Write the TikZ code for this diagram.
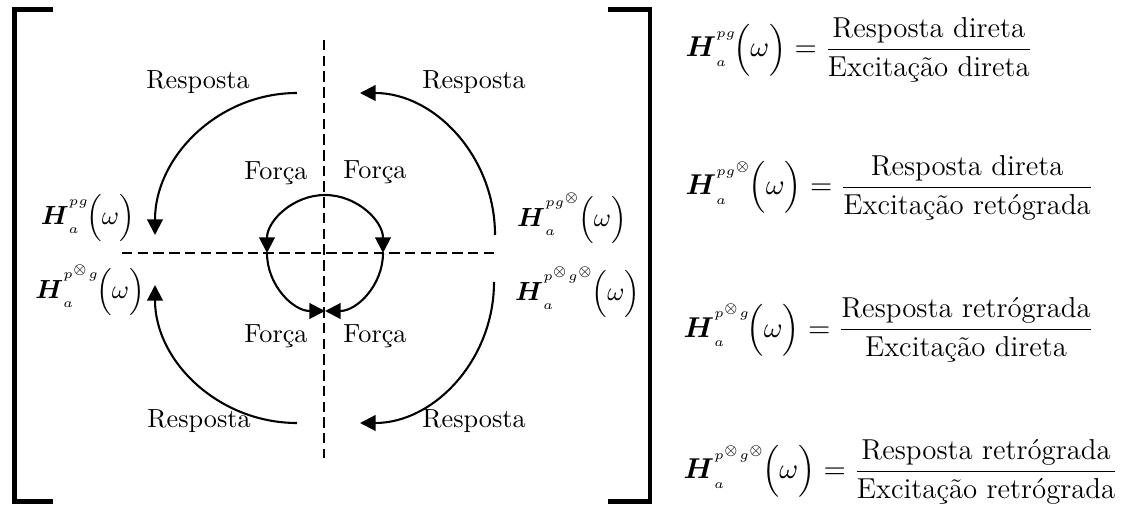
\documentclass[tikz,border=0pt]{standalone}
\usepackage{amsmath,amssymb}
\usepackage{fontspec}
\usepackage{tikz}
\usetikzlibrary{arrows.meta,calc}
\newcommand{\Hfun}[1]{\boldsymbol{H}_{_{a}}^{^{#1}}\!\Big(\omega\Big)}

\begin{document}
\begin{tikzpicture}[
  x=0.3817pt,y=0.3817pt,
  font=\normalsize,
  lbl/.style={inner sep=1pt},
  eqn/.style={anchor=west,inner sep=0pt,font=\fontsize{11}{13.5}\selectfont},
  arr/.style={-{Triangle[length=6pt,width=6pt]},line width=0.8pt},
  axisline/.style={dash pattern=on 4pt off 2pt,line width=0.7pt},
  brk/.style={line width=1.9pt}
]
\useasboundingbox (0,0) rectangle (1125,510);
% brackets
\draw[brk] (53,500.5) -- (14.5,500.5) -- (14.5,8.5) -- (53,8.5);
\draw[brk] (608,500.5) -- (650,500.5) -- (650,8.5) -- (608,8.5);
% axes
\coordinate (hl) at (122,257); \coordinate (hr) at (495,257);
\coordinate (vt) at (324,470); \coordinate (vb) at (324,52);
\draw[axisline] (hl) -- (hr);
\draw[axisline] (vt) -- (vb);
% inner circle (forces)
\coordinate (ft) at (325,315); \coordinate (fl) at (267,257); \coordinate (fr) at (383,257);
\draw[arr] (ft) arc[start angle=90,end angle=180,radius=58];
\draw[arr] (ft) arc[start angle=90,end angle=0,radius=58];
\draw[arr] (fl) arc[start angle=180,end angle=270,radius=58];
\draw[arr] (fr) arc[start angle=0,end angle=-90,radius=58];
% outer arcs (responses)
\coordinate (rtl) at (297,417); \coordinate (rtr) at (495,275);
\coordinate (rbl) at (297,87);  \coordinate (rbr) at (494,228);
\draw[arr] (rtl) arc[start angle=90,end angle=180,radius=142];
\draw[arr] (rtr) arc[start angle=0,end angle=90,x radius=135,y radius=142];
\draw[arr] (rbl) arc[start angle=270,end angle=180,x radius=142,y radius=138];
\draw[arr] (rbr) arc[start angle=0,end angle=-90,x radius=134,y radius=141];
% labels
\node[lbl] (resptl) at (198,428) {Resposta};
\node[lbl] (resptr) at (474,428) {Resposta};
\node[lbl] (respbl) at (199,89) {Resposta};
\node[lbl] (respbr) at (474,89) {Resposta};
\node[lbl] (forctl) at (276,337) {Força};
\node[lbl] (forctr) at (375,338) {Força};
\node[lbl] (forcbl) at (276,174) {Força};
\node[lbl] (forcbr) at (375,174) {Força};
\node[lbl,anchor=east] (hpg) at (138,292) {$\Hfun{pg}$};
\node[lbl,anchor=east] (hpxg) at (148,220) {$\Hfun{p^{\otimes}g}$};
\node[lbl,anchor=west] (hpgx) at (514,292) {$\Hfun{pg^{\otimes}}$};
\node[lbl,anchor=west] (hpxgx) at (512,218) {$\Hfun{p^{\otimes}g^{\otimes}}$};
% definitions
\node[eqn] (eq1) at (685,460) {$\displaystyle \Hfun{pg}=\frac{\text{Resposta direta}}{\text{Excitação direta}}$};
\node[eqn] (eq2) at (685,322) {$\displaystyle \Hfun{pg^{\otimes}}=\frac{\text{Resposta direta}}{\text{Excitação retógrada}}$};
\node[eqn] (eq3) at (683,180) {$\displaystyle \Hfun{p^{\otimes}g}=\frac{\text{Resposta retrógrada}}{\text{Excitação direta}}$};
\node[eqn] (eq4) at (683,38) {$\displaystyle \Hfun{p^{\otimes}g^{\otimes}}=\frac{\text{Resposta retrógrada}}{\text{Excitação retrógrada}}$};
\end{tikzpicture}
\end{document}
